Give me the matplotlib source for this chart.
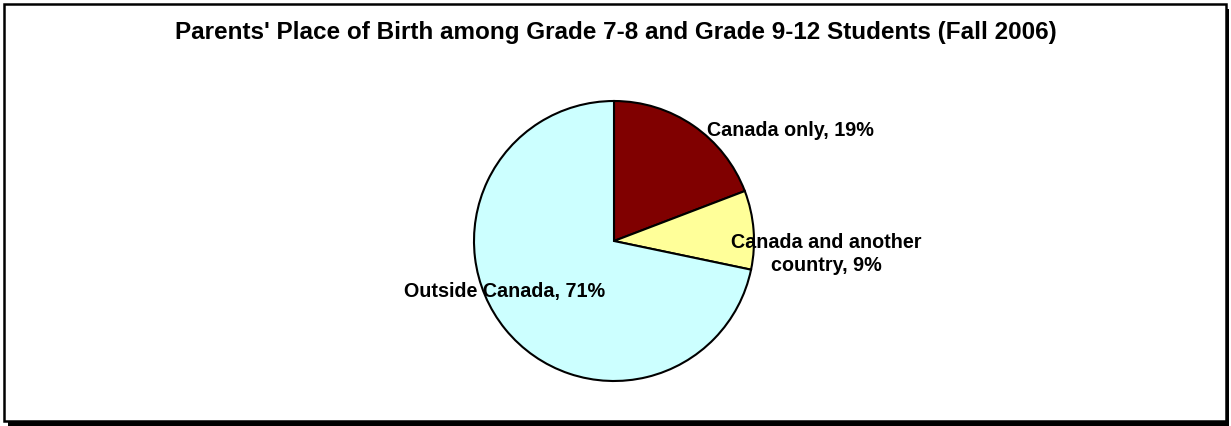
import matplotlib.pyplot as plt
from matplotlib.patches import Rectangle

plt.rcParams['font.family'] = ['Liberation Sans', 'DejaVu Sans']

# --- datos ---
categorias = ['Canada only', 'Canada and another\ncountry', 'Outside Canada']
porcentajes = [19, 9, 71]
colores = ['#800000', '#FFFF99', '#CCFFFF']
titulo = "Parents' Place of Birth among Grade 7-8 and Grade 9-12 Students (Fall 2006)"

W, H = 1231, 426
fig = plt.figure(figsize=(W / 100, H / 100), dpi=100)
ax = fig.add_axes([0, 0, 1, 1])

# marco con sombra
ax.add_patch(Rectangle((8, 0.5), W - 10, H - 9, facecolor='black', edgecolor='none', zorder=0))
ax.add_patch(Rectangle((3.5, 5.5), W - 9, H - 9, facecolor='white', edgecolor='black', linewidth=1.8, zorder=1))

cx, cy, r = 614, H - 241, 140
ax.pie(porcentajes, colors=colores, startangle=90, counterclock=False,
       center=(cx, cy), radius=r, frame=True,
       wedgeprops={'edgecolor': 'black', 'linewidth': 1.5, 'zorder': 2})

etiquetas = [f'{c}, {p}%' for c, p in zip(categorias, porcentajes)]
posiciones = [(790, H - 130), (826, H - 254), (505, H - 292)]
for txt, (x, y) in zip(etiquetas, posiciones):
    ax.text(x, y, txt, ha='center', va='center', fontsize=14.2, fontweight='bold',
            linespacing=1.3, zorder=3)

ax.text(W / 2, H - 33, titulo, ha='center', va='center', fontsize=17.5, fontweight='bold', zorder=3)

ax.set_xlim(0, W)
ax.set_ylim(0, H)
ax.set_aspect('auto')
ax.set_axis_off()

fig.savefig('out.png', dpi=100, facecolor='white')
